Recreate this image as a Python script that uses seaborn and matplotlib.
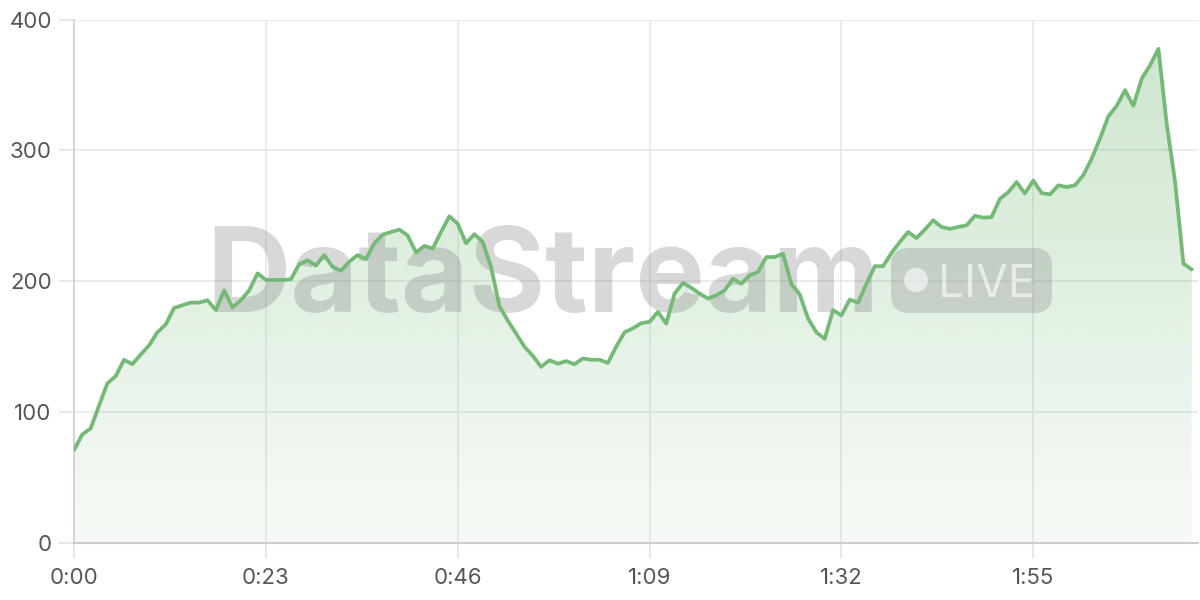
import numpy as np
import pandas as pd
import seaborn as sns
import matplotlib.pyplot as plt
from matplotlib.colors import to_rgb
from matplotlib.patches import FancyBboxPatch, Circle

GREEN = '#75b977'

# viewers, one reading per second
counts = [
    71, 83, 87.5, 105, 122, 127.5, 140, 136.6, 144, 151,
    161, 167, 179.6, 181.7, 183.7, 183.7, 185.5, 178, 193, 180,
    185.5, 193, 206, 201, 201, 201, 201.5, 213, 216, 212,
    220, 211, 208, 215, 220, 217, 229, 235.6, 237.6, 239.5,
    235, 222, 227, 225, 237.6, 249.6, 244, 229, 236, 230,
    211, 181, 170, 160, 150, 143, 134.6, 139.7, 137, 139,
    136.6, 141, 140, 140, 137.6, 150, 161, 164, 168, 169,
    176.6, 167.7, 190.6, 198.7, 195, 190.6, 186.8, 189.3, 193, 202,
    198, 204.6, 207, 218.5, 218.5, 221, 198, 190, 171.5, 161,
    156, 178, 174, 186, 183.7, 198, 211.5, 211.5, 221.6, 230,
    237.6, 233, 239.5, 246.6, 241.5, 240, 241.5, 242.7, 250, 248.6,
    249, 263, 268, 275.8, 267, 277, 267.4, 266.4, 273.3, 272,
    273.3, 281, 293.6, 309, 326, 334, 346, 334, 354.7, 365,
    377.6, 320, 276, 213.5, 209,
]
seconds = list(range(len(counts)))
tick_seconds = [0, 23, 46, 69, 92, 115]
tick_labels = ['0:00', '0:23', '0:46', '1:09', '1:32', '1:55']
y_ticks = [0, 100, 200, 300, 400]


def draw_fill(ax, df):
    poly = ax.fill_between(df['t'], df['v'], 0, color='none', lw=0)
    rgba = np.zeros((256, 1, 4))
    rgba[..., :3] = to_rgb(GREEN)
    rgba[..., 3] = np.linspace(0.06, 0.36, 256).reshape(-1, 1)
    img = ax.imshow(rgba, extent=[df['t'].min(), df['t'].max(), 0, df['v'].max()],
                    origin='lower', aspect='auto', zorder=1, interpolation='bilinear')
    img.set_clip_path(poly.get_paths()[0], transform=ax.transData)


def draw_watermark(fig, ax):
    tr = fig.dpi_scale_trans
    ax.text(2.06, 2.88, 'DataStream', transform=tr, fontsize=84, fontweight='bold',
            color='#808080', alpha=0.3, zorder=2, ha='left', va='baseline')
    badge = FancyBboxPatch((8.91, 2.87), 1.61, 0.65, boxstyle='round,pad=0,rounding_size=0.18',
                           transform=tr, facecolor='#808080', alpha=0.28, lw=0, zorder=2)
    ax.add_artist(badge)
    ax.add_artist(Circle((9.16, 3.20), 0.12, transform=tr, facecolor='white',
                         alpha=0.6, lw=0, zorder=2))
    ax.text(9.38, 3.03, 'LIVE', transform=tr, fontsize=33, color='white',
            alpha=0.6, zorder=2, ha='left', va='baseline')


def main():
    df = pd.DataFrame({'t': seconds, 'v': counts})

    sns.set_theme(style='white')
    plt.rcParams['font.family'] = ['Inter', 'DejaVu Sans']

    fig = plt.figure(figsize=(12, 6), dpi=100)
    ax = fig.add_axes([74 / 1200, 0.095, 1 - 74 / 1200 - 0.002, 0.9675 - 0.095])

    draw_fill(ax, df)
    sns.lineplot(data=df, x='t', y='v', color=GREEN, linewidth=2.7, ax=ax, zorder=4)
    draw_watermark(fig, ax)

    ax.set_xlim(0, 134.7)
    ax.set_ylim(0, 400)
    ax.set_xticks(tick_seconds)
    ax.set_xticklabels(tick_labels)
    ax.set_yticks(y_ticks)
    ax.set_xlabel('')
    ax.set_ylabel('')

    ax.set_axisbelow(True)
    ax.grid(True, color='#e8e8e8', linewidth=1.2)
    for side in ['top', 'right']:
        ax.spines[side].set_visible(False)
    ax.spines['left'].set_color('#d6d6d6')
    ax.spines['left'].set_linewidth(1.5)
    ax.spines['bottom'].set_color('#cccccc')
    ax.spines['bottom'].set_linewidth(1.5)
    ax.tick_params(axis='both', length=11, width=1.2, color='#e3e3e3',
                   labelcolor='#555555', labelsize=16)
    ax.tick_params(axis='y', pad=5)
    ax.tick_params(axis='x', pad=7)
    ax.tick_params(axis='both', bottom=True, left=True)

    fig.savefig('out.png', dpi=100)


if __name__ == '__main__':
    main()
